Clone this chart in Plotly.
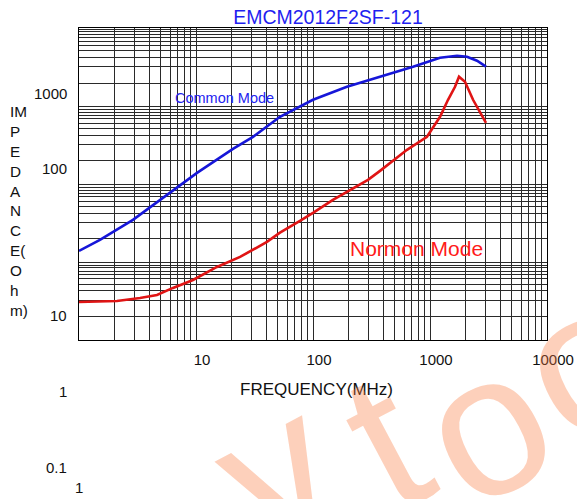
import math
import plotly.graph_objects as go

# ---------------- data ----------------
FREQ_CM = [1.0, 1.51, 2.89, 5.65, 10.2, 20.7, 30.7, 52.2, 100, 195, 374, 716, 1218, 1702, 2071, 2523, 3010]
Z_CM = [6.98, 9.68, 17.5, 36.6, 70.3, 143, 204, 369, 610, 896, 1205, 1622, 2113, 2244, 2178, 1936, 1622]

FREQ_NM = [1.0, 2.11, 3.32, 4.64, 6.36, 9.43, 15.1, 23.8, 40.4, 52.2, 77.4, 100, 148, 295, 374, 636,
           942, 1218, 1426, 1636, 1770, 1991, 2333, 3010]
Z_NM = [1.545, 1.59, 1.74, 1.90, 2.34, 2.96, 4.35, 5.85, 9.12, 12.0, 17.0, 21.5, 31.6, 57.1, 74.6, 139,
        204, 369, 610, 896, 1205, 1039, 610, 309]

SERIES_NAMES = ["Common Mode", "Normon Mode"]
TITLE = "EMCM2012F2SF-121"
X_TITLE = "FREQUENCY(MHz)"
Y_TITLE_LINES = ["IM", "P", "E", "D", "A", "N", "C", "E(", "O", "h", "m)"]
X_TICK_VALUES = [10, 100, 1000, 10000]
X_TICK_LABELS = ["10", "100", "1000", "10000"]
Y_TICK_LABELS = ["1000", "100", "10", "1", "0.1"]
EXTRA_LABEL = "1"
WATERMARK_LETTERS = ["y", "t", "o", "o"]

# ---------------- layout geometry ----------------
W, H = 577, 499
P_L, P_T, P_R, P_B = 79, 28, 547, 340   # plot box in pixels
PW, PH = P_R - P_L, P_B - P_T
ML, MT, MR, MB = P_L, P_T, W - P_R, H - P_B


def px(x):
    return (x - P_L) / PW


def py(y):
    return (P_B - y) / PH


FONT = "Liberation Sans, Arial, sans-serif"
BLUE_LINE = "#1616d8"
RED_LINE = "#e01414"
GRID = "#2a2a2a"

# compressed decade grid as drawn on the original sheet
Y_LOG_MIN, Y_LOG_MAX = -0.2995, 3.707
y_grid = []
for k in range(-1, 4):
    for d in range(1, 11):
        v = k + 0.694 * math.log10(d)
        if Y_LOG_MIN <= v <= Y_LOG_MAX:
            y_grid.append(10 ** v)

x_minor = [d * 10 ** k for k in range(0, 4) for d in range(2, 10)]

fig = go.Figure()
fig.add_trace(go.Scatter(x=FREQ_CM, y=Z_CM, mode="lines", name=SERIES_NAMES[0],
                         line=dict(color=BLUE_LINE, width=2.6)))
fig.add_trace(go.Scatter(x=FREQ_NM, y=Z_NM, mode="lines", name=SERIES_NAMES[1],
                         line=dict(color=RED_LINE, width=2.6)))

fig.update_layout(
    width=W, height=H,
    margin=dict(l=ML, r=MR, t=MT, b=MB, pad=0, autoexpand=False),
    paper_bgcolor="white", plot_bgcolor="white",
    showlegend=False,
    font=dict(family=FONT, color="#111111"),
    title=dict(text=TITLE, x=328 / W, xanchor="center", y=1 - 17 / H, yanchor="middle",
               font=dict(size=19.5, color="#1f1ff0", family=FONT)),
)

fig.update_xaxes(
    type="log", range=[0, 4], automargin=False,
    tickvals=[1] + X_TICK_VALUES, ticktext=[""] + X_TICK_LABELS,
    tickfont=dict(size=15, color="#111111"), ticks="", ticklabelshift=6, ticklabelstandoff=6,
    ticklabeloverflow="allow",
    showgrid=True, gridcolor=GRID, gridwidth=1,
    minor=dict(tickvals=x_minor, showgrid=True, gridcolor=GRID, gridwidth=1, ticks=""),
    showline=True, linecolor="#000000", linewidth=1, mirror=True, zeroline=False,
)
fig.update_yaxes(
    type="log", range=[Y_LOG_MIN, Y_LOG_MAX], automargin=False,
    tickvals=y_grid, showticklabels=False, ticks="",
    showgrid=True, gridcolor=GRID, gridwidth=1,
    showline=True, linecolor="#000000", linewidth=1, mirror=True, zeroline=False,
)

ann = []
# y tick labels as printed on the sheet
y_label_pos = [(69, 93), (69, 168), (69, 315), (69, 391), (69, 468)]
for (xp, yp), txt in zip(y_label_pos, Y_TICK_LABELS):
    ann.append(dict(x=px(xp), y=py(yp), xref="paper", yref="paper", text=txt, showarrow=False,
                    xanchor="right", yanchor="middle", font=dict(size=15, color="#111111")))
ann.append(dict(x=px(79), y=py(487), xref="paper", yref="paper", text=EXTRA_LABEL, showarrow=False,
                xanchor="center", yanchor="middle", font=dict(size=15, color="#111111")))
# axis titles
ann.append(dict(x=px(316), y=py(389.5), xref="paper", yref="paper", text=X_TITLE, showarrow=False,
                xanchor="center", yanchor="middle", font=dict(size=17, color="#111111")))
ann.append(dict(x=px(8), y=py(211), xref="paper", yref="paper", text="<br>".join(Y_TITLE_LINES),
                showarrow=False, xanchor="left", yanchor="middle", align="left",
                font=dict(size=15.3, color="#111111")))
# series labels
ann.append(dict(x=px(173), y=py(97.5), xref="paper", yref="paper", text=SERIES_NAMES[0], showarrow=False,
                xanchor="left", yanchor="middle", font=dict(size=14.5, color="#2323f0")))
ann.append(dict(x=px(348), y=py(249), xref="paper", yref="paper", text=SERIES_NAMES[1], showarrow=False,
                xanchor="left", yanchor="middle", font=dict(size=21, color="#ff1a1a")))
# watermark
wm_pos = [(275, 470), (385, 440), (485, 425), (583, 360)]
for (xp, yp), ch in zip(wm_pos, WATERMARK_LETTERS):
    ann.append(dict(x=px(xp), y=py(yp), xref="paper", yref="paper", text=ch, showarrow=False,
                    xanchor="center", yanchor="middle", textangle=-28,
                    font=dict(size=200, color="rgba(248,120,60,0.35)", family=FONT)))

fig.update_layout(annotations=ann)
fig.write_html("out.html", config={"displayModeBar": False},
               post_script="document.body.style.margin='0';document.body.style.overflow='hidden';")
